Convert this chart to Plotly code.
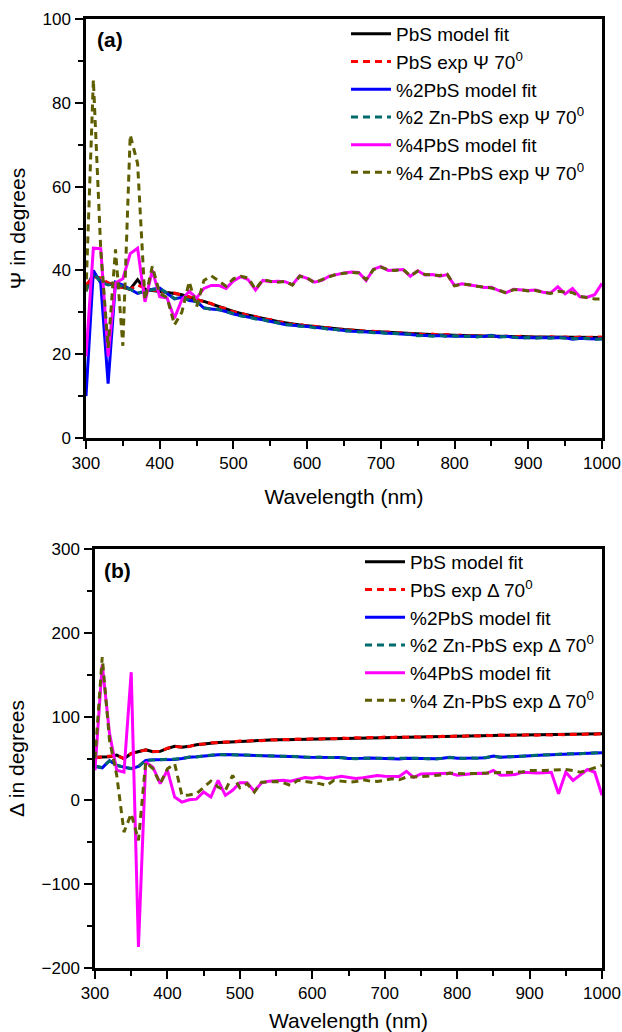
import plotly.graph_objects as go

# ---------------- data ----------------
wavelength = [300, 310, 320, 330, 340, 350, 360, 370, 380, 390,
              400, 410, 420, 430, 440, 450, 460, 470, 480, 490,
              500, 510, 520, 530, 540, 550, 560, 570, 580, 590,
              600, 610, 620, 630, 640, 650, 660, 670, 680, 690,
              700, 710, 720, 730, 740, 750, 760, 770, 780, 790,
              800, 810, 820, 830, 840, 850, 860, 870, 880, 890,
              900, 910, 920, 930, 940, 950, 960, 970, 980, 990, 1000]

# Panel (a): Psi
psi_pbs_fit = [36.0, 39.0, 37.5, 37.0, 36.5, 36.0, 35.5, 37.8, 35.5, 35.2,
               35.0, 34.8, 34.5, 34.2, 33.6, 33.0, 32.6, 32.0, 31.3, 30.8,
               30.2, 29.7, 29.3, 28.9, 28.5, 28.2, 27.8, 27.5, 27.2, 27.0,
               26.8, 26.6, 26.4, 26.2, 26.0, 25.9, 25.8, 25.6, 25.5, 25.4,
               25.3, 25.2, 25.1, 25.0, 24.9, 24.8, 24.7, 24.7, 24.6, 24.6,
               24.5, 24.5, 24.4, 24.4, 24.3, 24.3, 24.3, 24.2, 24.2, 24.2,
               24.1, 24.1, 24.1, 24.1, 24.0, 24.0, 24.0, 24.0, 24.0, 24.0, 24.0]
psi_pbs_exp = [36.5, 38.5, 38.2, 37.0, 36.2, 35.8, 35.5, 36.5, 35.8, 35.3,
               35.1, 34.7, 34.6, 34.1, 33.7, 33.1, 32.5, 32.1, 31.2, 30.9,
               30.1, 29.8, 29.2, 29.0, 28.4, 28.3, 27.7, 27.6, 27.1, 27.1,
               26.7, 26.7, 26.3, 26.3, 25.9, 26.0, 25.7, 25.7, 25.4, 25.5,
               25.2, 25.3, 25.0, 25.1, 24.8, 24.9, 24.6, 24.8, 24.5, 24.7,
               24.4, 24.6, 24.3, 24.5, 24.2, 24.4, 24.2, 24.3, 24.1, 24.3,
               24.0, 24.2, 24.0, 24.2, 23.9, 24.1, 23.9, 24.1, 24.0, 24.1, 24.1]
psi_zn2_fit = [10.0, 40.0, 37.0, 13.0, 37.2, 36.5, 35.5, 34.5, 35.0, 35.5,
               35.8, 34.5, 33.2, 33.6, 32.8, 32.6, 31.0, 30.8, 30.6, 30.2,
               29.6, 29.2, 28.8, 28.5, 28.2, 27.8, 27.4, 27.1, 26.9, 26.8,
               26.6, 26.4, 26.2, 26.0, 25.8, 25.6, 25.5, 25.4, 25.3, 25.2,
               25.1, 25.0, 24.9, 24.9, 24.7, 24.5, 24.4, 24.4, 24.4, 24.3,
               24.3, 24.3, 24.2, 24.2, 24.2, 24.5, 24.1, 24.3, 24.0, 23.9,
               23.9, 23.9, 23.9, 23.9, 23.9, 23.9, 23.6, 23.8, 23.7, 23.6, 23.6]
psi_zn2_exp = [35.0, 39.5, 37.2, 36.5, 36.8, 36.2, 35.5, 34.6, 35.0, 35.4,
               35.6, 34.6, 33.3, 33.5, 32.9, 32.5, 31.1, 30.7, 30.7, 30.1,
               29.7, 29.1, 28.9, 28.4, 28.3, 27.7, 27.5, 27.0, 27.0, 26.7,
               26.7, 26.3, 26.3, 25.9, 25.9, 25.5, 25.6, 25.3, 25.4, 25.1,
               25.2, 24.9, 25.0, 24.8, 24.8, 24.4, 24.5, 24.3, 24.5, 24.2,
               24.4, 24.2, 24.3, 24.1, 24.3, 24.4, 24.2, 24.2, 24.1, 23.8,
               24.0, 23.8, 24.0, 23.8, 24.0, 23.8, 23.7, 23.7, 23.8, 23.5, 23.7]
psi_zn4_fit = [19.5, 45.3, 45.2, 19.5, 37.0, 38.0, 44.0, 45.3, 32.5, 40.0,
               33.7, 33.4, 28.6, 33.0, 35.0, 33.4, 35.7, 36.4, 36.4, 35.7,
               37.5, 38.5, 37.8, 35.3, 37.6, 37.3, 37.4, 37.3, 36.6, 38.7,
               38.1, 37.2, 37.6, 38.6, 39.0, 39.4, 39.6, 39.5, 37.6, 40.3,
               40.9, 40.0, 40.1, 40.2, 38.6, 39.9, 38.9, 39.0, 38.6, 39.0,
               36.4, 36.8, 36.5, 36.3, 35.9, 36.0, 35.2, 34.7, 35.5, 35.3,
               35.2, 35.3, 34.8, 34.6, 36.1, 34.4, 35.7, 33.7, 33.6, 34.2, 36.9]
psi_zn4_exp = [35.0, 85.5, 45.0, 21.5, 45.0, 22.0, 72.3, 65.5, 33.0, 41.0,
               34.5, 33.5, 27.0, 30.0, 37.3, 31.3, 37.6, 38.7, 37.5, 36.2,
               38.0, 38.6, 38.2, 35.5, 37.8, 37.4, 37.2, 37.4, 36.5, 38.6,
               38.2, 37.0, 37.8, 38.5, 39.1, 39.3, 39.5, 39.4, 37.8, 40.2,
               40.8, 40.1, 40.0, 40.3, 38.7, 39.8, 39.0, 38.9, 38.8, 39.1,
               36.3, 36.7, 36.6, 36.2, 36.0, 35.8, 35.3, 34.6, 35.4, 35.4,
               35.1, 35.2, 34.8, 34.5, 35.0, 34.8, 34.7, 33.8, 33.5, 33.2, 33.2]

# Panel (b): Delta
del_pbs_fit = [51.5, 51.5, 52.0, 54.0, 49.7, 56.0, 58.0, 60.5, 58.0, 58.5,
               62.0, 64.5, 63.5, 64.5, 66.5, 67.5, 68.5, 69.0, 69.5, 70.0,
               70.5, 71.0, 71.3, 71.6, 72.0, 72.3, 72.5, 72.7, 72.9, 73.1,
               73.3, 73.5, 73.7, 73.9, 74.1, 74.3, 74.5, 74.7, 74.9, 75.1,
               75.3, 75.4, 75.5, 75.6, 75.7, 75.8, 75.9, 76.0, 76.2, 76.4,
               76.6, 76.8, 77.0, 77.2, 77.4, 77.5, 77.6, 77.7, 77.8, 77.9,
               78.0, 78.1, 78.2, 78.3, 78.4, 78.5, 78.6, 78.8, 79.0, 79.2, 79.5]
del_pbs_exp = [51.0, 51.8, 52.3, 53.6, 50.0, 55.7, 58.3, 60.2, 58.3, 58.2,
               62.3, 64.2, 63.8, 64.2, 66.8, 67.2, 68.8, 68.7, 69.8, 69.7,
               70.8, 70.7, 71.6, 71.3, 72.3, 72.0, 72.8, 72.4, 73.2, 72.8,
               73.6, 73.2, 74.0, 73.6, 74.4, 74.0, 74.8, 74.4, 75.2, 74.8,
               75.6, 75.1, 75.8, 75.3, 76.0, 75.5, 76.2, 75.7, 76.5, 76.1,
               76.9, 76.5, 77.3, 76.9, 77.7, 77.2, 77.9, 77.4, 78.1, 77.6,
               78.3, 77.8, 78.5, 78.0, 78.7, 78.2, 78.9, 78.5, 79.3, 78.9, 79.8]
del_zn2_fit = [40.5, 38.9, 47.5, 41.7, 39.7, 37.7, 40.5, 47.7, 48.5, 48.5,
               48.9, 48.9, 50.0, 51.6, 52.0, 53.0, 54.4, 54.6, 54.8, 54.6,
               54.4, 54.0, 53.6, 53.4, 53.2, 53.0, 52.8, 52.4, 52.0, 51.6,
               51.6, 51.6, 51.4, 51.2, 51.2, 50.0, 49.8, 50.2, 50.5, 50.2,
               50.4, 50.2, 49.5, 50.4, 50.2, 50.0, 49.6, 49.7, 50.2, 51.5,
               50.4, 50.2, 50.4, 50.6, 51.0, 53.0, 51.4, 52.0, 52.6, 53.0,
               53.4, 53.8, 54.2, 54.6, 55.0, 55.3, 55.6, 56.0, 56.3, 56.6, 57.0]
del_zn2_exp = [41.0, 39.2, 47.0, 42.0, 39.5, 38.0, 40.2, 48.0, 48.2, 48.8,
               48.6, 49.2, 49.8, 51.8, 51.8, 53.2, 54.2, 54.8, 54.6, 54.8,
               54.2, 54.2, 53.4, 53.6, 53.0, 53.2, 52.6, 52.6, 51.8, 51.8,
               51.4, 51.8, 51.2, 51.4, 51.0, 50.2, 49.6, 50.4, 50.3, 50.4,
               50.2, 50.4, 49.7, 50.2, 50.4, 49.8, 49.8, 49.5, 50.4, 51.3,
               50.6, 50.0, 50.6, 50.4, 51.2, 52.8, 51.6, 51.8, 52.8, 52.8,
               53.6, 53.6, 54.4, 54.4, 55.2, 55.1, 55.8, 55.8, 56.5, 56.4, 57.2]
del_zn4_fit = [36.0, 162.0, 80.0, 36.0, 33.8, 153.0, -175.0, 45.7, 39.7, 20.0,
               36.0, 4.0, -2.0, 0.8, 1.5, 10.0, 4.0, 24.0, 6.0, 12.0,
               21.0, 21.0, 11.0, 21.0, 23.0, 23.5, 23.9, 23.0, 25.0, 27.4,
               26.5, 27.8, 26.2, 27.0, 28.8, 27.6, 26.2, 27.0, 28.2, 29.8,
               28.8, 28.2, 28.5, 34.7, 27.5, 31.5, 31.8, 31.8, 32.6, 32.5,
               30.0, 30.5, 31.8, 32.5, 32.0, 35.8, 30.0, 30.2, 30.8, 33.6,
               33.0, 32.6, 33.0, 33.6, 8.0, 33.6, 23.9, 30.5, 36.8, 33.6, 6.0]
del_zn4_exp = [50.0, 171.0, 72.0, 30.0, -37.8, -16.0, -47.7, 45.7, 38.0, 20.0,
               37.7, 43.7, 6.0, 6.5, 8.0, 15.9, 23.0, 15.9, 11.9, 29.8,
               15.0, 19.9, 10.0, 21.8, 22.0, 22.5, 21.0, 17.9, 23.9, 22.5,
               21.8, 20.0, 17.9, 23.9, 23.0, 21.8, 22.5, 24.6, 23.0, 22.7,
               24.0, 25.8, 24.6, 27.8, 27.8, 28.5, 29.0, 29.8, 30.5, 32.6,
               31.8, 31.8, 32.0, 32.2, 32.4, 32.6, 32.6, 33.0, 33.5, 34.0,
               35.8, 35.5, 35.8, 36.0, 36.5, 36.8, 35.5, 33.6, 36.0, 39.0, 41.7]

x_ticks = [300, 400, 500, 600, 700, 800, 900, 1000]
psi_ticks = [0, 20, 40, 60, 80, 100]
delta_ticks = [-200, -100, 0, 100, 200, 300]

# ---------------- styling ----------------
FONT = "Liberation Sans, Arial, sans-serif"
W, H = 622, 1032

def px_x(p):
    return p / W

def px_y(p):
    return 1 - p / H

series_style = [
    ("PbS model fit", "#000000", "solid"),
    ("PbS exp {sym} 70<sup>0</sup>", "#ff0000", "7px,5px"),
    ("%2PbS model fit", "#0000ff", "solid"),
    ("%2 Zn-PbS exp {sym} 70<sup>0</sup>", "#006b6b", "7px,5px"),
    ("%4PbS model fit", "#ff00ff", "solid"),
    ("%4 Zn-PbS exp {sym} 70<sup>0</sup>", "#5e5e00", "7px,5px"),
]

fig = go.Figure()

psi_data = [psi_pbs_fit, psi_pbs_exp, psi_zn2_fit, psi_zn2_exp, psi_zn4_fit, psi_zn4_exp]
del_data = [del_pbs_fit, del_pbs_exp, del_zn2_fit, del_zn2_exp, del_zn4_fit, del_zn4_exp]

for (name, color, dash), ys in zip(series_style, psi_data):
    fig.add_trace(go.Scatter(
        x=wavelength, y=ys, mode="lines", name=name.format(sym="Ψ"),
        line=dict(color=color, width=3, dash=dash),
        xaxis="x", yaxis="y", legend="legend"))

for (name, color, dash), ys in zip(series_style, del_data):
    fig.add_trace(go.Scatter(
        x=wavelength, y=ys, mode="lines", name=name.format(sym="Δ"),
        line=dict(color=color, width=3, dash=dash),
        xaxis="x2", yaxis="y2", legend="legend2"))

axis_common = dict(
    automargin=False,
    showline=True, linecolor="black", linewidth=2.5, mirror=True,
    showgrid=False, zeroline=False,
    ticks="outside", ticklen=8, tickwidth=2, tickcolor="black",
    tickfont=dict(family=FONT, size=17, color="black"),
)

title_font = dict(family=FONT, size=21, color="black")
xminor = dict(ticks="outside", dtick=50, ticklen=5, tickwidth=2, tickcolor="black")

fig.update_layout(
    template="none",
    width=W, height=H,
    margin=dict(l=0, r=0, t=0, b=0, autoexpand=False),
    paper_bgcolor="white", plot_bgcolor="white",
    font=dict(family=FONT, color="black"),
    showlegend=True,
    xaxis=dict(domain=[px_x(86), px_x(602)], range=[300, 1000], anchor="y",
               tickvals=x_ticks, minor=xminor,
               title=dict(text="Wavelength (nm)", font=title_font, standoff=18),
               **axis_common),
    yaxis=dict(domain=[px_y(438), px_y(19)], range=[0, 100], anchor="x",
               tickvals=psi_ticks, ticklabelstandoff=1,
               minor=dict(ticks="outside", dtick=10, ticklen=5, tickwidth=2, tickcolor="black"),
               title=dict(text="Ψ in degrees", font=title_font, standoff=12),
               **axis_common),
    xaxis2=dict(domain=[px_x(95), px_x(602)], range=[300, 1000], anchor="y2",
                tickvals=x_ticks, minor=xminor,
                title=dict(text="Wavelength (nm)", font=title_font, standoff=14),
                **axis_common),
    yaxis2=dict(domain=[px_y(968), px_y(549)], range=[-200, 300], anchor="x2",
                tickvals=delta_ticks, ticklabelstandoff=1,
                minor=dict(ticks="outside", dtick=50, ticklen=5, tickwidth=2, tickcolor="black"),
                title=dict(text="Δ in degrees", font=title_font, standoff=12),
                **axis_common),
    legend=dict(x=px_x(346), y=px_y(15), xanchor="left", yanchor="top",
                bgcolor="rgba(0,0,0,0)", borderwidth=0,
                font=dict(family=FONT, size=19, color="black"),
                tracegroupgap=0, itemwidth=40),
    legend2=dict(x=px_x(360), y=px_y(543), xanchor="left", yanchor="top",
                 bgcolor="rgba(0,0,0,0)", borderwidth=0,
                 font=dict(family=FONT, size=19, color="black"),
                 tracegroupgap=0, itemwidth=40),
    annotations=[
        dict(text="<b>(a)</b>", x=px_x(95), y=px_y(40), xref="paper", yref="paper",
             xanchor="left", yanchor="middle", showarrow=False,
             font=dict(family=FONT, size=21, color="black")),
        dict(text="<b>(b)</b>", x=px_x(102), y=px_y(570), xref="paper", yref="paper",
             xanchor="left", yanchor="middle", showarrow=False,
             font=dict(family=FONT, size=21, color="black")),
    ],
)

fig.write_html("out.html")
